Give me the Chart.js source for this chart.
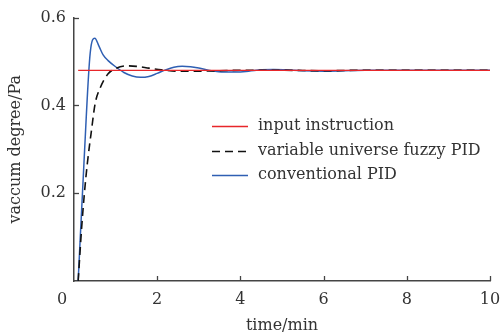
<!DOCTYPE html>
<html>
<head>
<meta charset="utf-8">
<script src="https://cdn.jsdelivr.net/npm/chart.js@4.4.1/dist/chart.umd.min.js"></script>
<style>
html,body{margin:0;padding:0;background:#fff;}
#wrap{width:500px;height:336px;position:relative;}
</style>
</head>
<body>
<div id="wrap"><canvas id="c" width="500" height="336"></canvas></div>
<script>
// ---- data ----
const inputT = [0.1, 10];
const inputV = [0.48, 0.48];

const fuzzyT = [0.1, 0.18, 0.25, 0.32, 0.42, 0.51, 0.63, 0.82, 1.0, 1.25, 1.5, 1.8, 2.1, 2.5, 3.0, 3.5, 4.0, 5.0, 6.0, 7.0, 8.0, 10.0];
const fuzzyV = [0, 0.116, 0.2, 0.267, 0.343, 0.405, 0.44, 0.472, 0.484, 0.49, 0.489, 0.485, 0.481, 0.478, 0.478, 0.479, 0.48, 0.48, 0.479, 0.48, 0.48, 0.48];

const pidT = [0.1, 0.24, 0.39, 0.5, 0.6, 0.7, 0.82, 1.0, 1.2, 1.4, 1.6, 1.8, 2.0, 2.2, 2.4, 2.6, 2.8, 3.0, 3.3, 3.6, 3.9, 4.2, 4.5, 4.8, 5.1, 5.5, 6.0, 6.5, 7.0, 8.0, 9.0, 10.0];
const pidV = [0, 0.27, 0.52, 0.553, 0.535, 0.515, 0.502, 0.488, 0.475, 0.467, 0.464, 0.466, 0.473, 0.481, 0.487, 0.489, 0.488, 0.485, 0.479, 0.476, 0.476, 0.478, 0.481, 0.482, 0.481, 0.479, 0.478, 0.479, 0.48, 0.48, 0.48, 0.48];

const seriesNames = ['input instruction', 'variable universe fuzzy PID', 'conventional PID'];
const xTicks = [0, 2, 4, 6, 8, 10];
const yTicks = [0, 0.2, 0.4, 0.6];

const FONT = 'DejaVu Serif';
const TXT = '#333';

function pts(t, v){ return t.map((x,i)=>({x:x, y:v[i]})); }

const colors = ['#e8262a', '#111111', '#2f5fb3'];
const dashes = [[], [8,5], []];

const innerTicks = {
  id:'innerTicks',
  afterDraw(chart){
    const ctx = chart.ctx, xs = chart.scales.x, ys = chart.scales.y, a = chart.chartArea;
    ctx.save();
    ctx.strokeStyle = '#444'; ctx.lineWidth = 1.3;
    xTicks.forEach(v=>{ if(v===0) return; const px = Math.round(xs.getPixelForValue(v))+0.5;
      ctx.beginPath(); ctx.moveTo(px, a.bottom); ctx.lineTo(px, a.bottom-5); ctx.stroke(); });
    yTicks.forEach(v=>{ if(v===0) return; const py = Math.round(ys.getPixelForValue(v))+0.5;
      ctx.beginPath(); ctx.moveTo(a.left, py); ctx.lineTo(a.left+5, py); ctx.stroke(); });
    // corner zero
    ctx.fillStyle = TXT; ctx.font = '16px "'+FONT+'"'; ctx.textAlign='center'; ctx.textBaseline='middle';
    ctx.fillText('0', a.left-12, a.bottom+19);
    // legend
    const lx0 = 212, lx1 = 248, tx = 258, rows = [126, 151, 175];
    ctx.textAlign='left';
    seriesNames.forEach((n,i)=>{
      ctx.strokeStyle = colors[i]; ctx.lineWidth = i===1?1.6:1.4; ctx.setLineDash(dashes[i]);
      ctx.beginPath(); ctx.moveTo(lx0, rows[i]+0.5); ctx.lineTo(lx1, rows[i]+0.5); ctx.stroke();
      ctx.setLineDash([]);
      ctx.fillStyle = TXT; ctx.fillText(n, tx, rows[i]);
    });
    ctx.restore();
  }
};

new Chart(document.getElementById('c'), {
  type:'line',
  data:{
    datasets:[
      {label:seriesNames[0], data:pts(inputT,inputV), borderColor:colors[0], borderWidth:1.2, pointRadius:0, fill:false},
      {label:seriesNames[1], data:pts(fuzzyT,fuzzyV), borderColor:colors[1], borderWidth:1.6, borderDash:dashes[1], pointRadius:0, fill:false, cubicInterpolationMode:'monotone'},
      {label:seriesNames[2], data:pts(pidT,pidV), borderColor:colors[2], borderWidth:1.5, pointRadius:0, fill:false, cubicInterpolationMode:'monotone'}
    ]
  },
  options:{
    responsive:false, animation:false,
    layout:{padding:{top:17, right:0, left:0, bottom:0}},
    plugins:{legend:{display:false}, tooltip:{enabled:false}},
    scales:{
      x:{type:'linear', min:0, max:10,
        afterBuildTicks(s){ s.ticks = xTicks.map(v=>({value:v})); },
        afterFit(s){ s.height = 55; s.paddingRight = 10; s.paddingLeft = 0; },
        grid:{display:false, drawTicks:false},
        border:{display:true, color:'#444', width:1.5},
        ticks:{padding:9, color:TXT, font:{family:FONT, size:16}, maxRotation:0, callback:(v)=> v===0 ? '' : String(v)},
        title:{display:true, text:'time/min', color:TXT, font:{family:FONT, size:16}, padding:{top:0,bottom:1}}
      },
      y:{type:'linear', min:0, max:0.6,
        afterBuildTicks(s){ s.ticks = yTicks.map(v=>({value:v})); },
        afterFit(s){ s.width = 74; },
        grid:{display:false, drawTicks:false},
        border:{display:true, color:'#444', width:1.5},
        ticks:{padding:8, color:TXT, font:{family:FONT, size:16}, callback:(v)=> v===0 ? '' : v.toFixed(1)},
        title:{display:true, text:'vaccum degree/Pa', color:TXT, font:{family:FONT, size:16}, padding:{top:6,bottom:0}}
      }
    }
  },
  plugins:[innerTicks]
});
</script>
</body>
</html>
